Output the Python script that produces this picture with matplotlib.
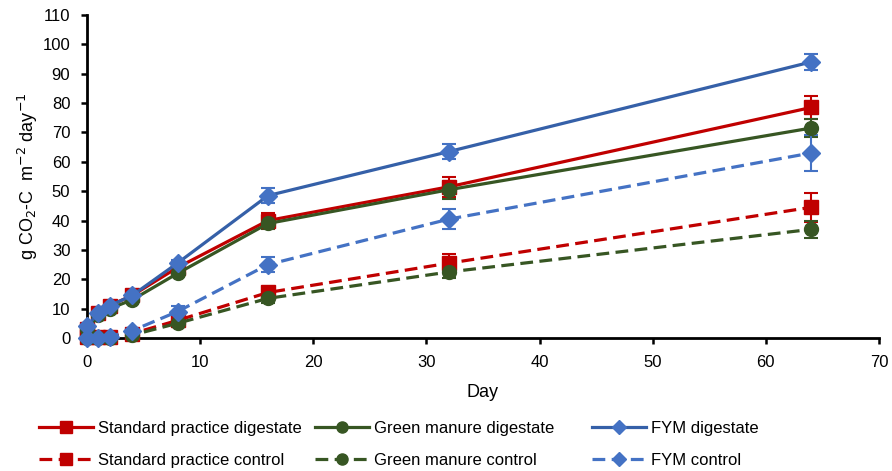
import numpy as np
import matplotlib
matplotlib.use("Agg")
import matplotlib.pyplot as plt

plt.rcParams['font.family'] = ['Liberation Sans', 'DejaVu Sans']

days = [0, 1, 2, 4, 8, 16, 32, 64]

sp_dig = [3, 8.5, 11, 14.5, 24, 40, 51.5, 78.5]
sp_dig_err = [0.5, 0.5, 0.5, 0.5, 1, 2.5, 3.5, 4]
gm_dig = [3, 8, 10, 13, 22, 39, 50.5, 71.5]
gm_dig_err = [0.5, 0.5, 0.5, 0.5, 1, 2, 3, 3]
fym_dig = [4, 8.5, 11, 14.5, 25.5, 48.5, 63.5, 94]
fym_dig_err = [0.5, 0.5, 0.5, 0.5, 1, 2.5, 2.5, 2.7]

sp_con = [0.5, 0.5, 0.5, 1.5, 6, 15.5, 25.5, 44.5]
sp_con_err = [0.3, 0.3, 0.3, 0.3, 1, 1.5, 3, 5]
gm_con = [0, 0, 0, 1, 5, 13.5, 22.5, 37]
gm_con_err = [0.3, 0.3, 0.3, 0.3, 1, 1.5, 2, 3]
fym_con = [0, 0, 0.5, 2.5, 9, 25, 40.5, 63]
fym_con_err = [0.3, 0.3, 0.3, 0.5, 2, 2.5, 3.5, 6]

red = '#C00000'
green = '#375623'
blue_line = '#3560A8'
blue = '#4472C4'

W, H = 892, 471
fig = plt.figure(figsize=(W / 100, H / 100), dpi=100)
ax = fig.add_axes([87 / W, 1 - 338 / H, 792 / W, 323 / H])

series = [
    (sp_dig, sp_dig_err, red, red, 's', '-', 'Standard practice digestate'),
    (sp_con, sp_con_err, red, red, 's', '--', 'Standard practice control'),
    (gm_dig, gm_dig_err, green, green, 'o', '-', 'Green manure digestate'),
    (gm_con, gm_con_err, green, green, 'o', '--', 'Green manure control'),
    (fym_dig, fym_dig_err, blue_line, blue, 'D', '-', 'FYM digestate'),
    (fym_con, fym_con_err, blue, blue, 'D', '--', 'FYM control'),
]

handles = []
for vals, err, lc, mc, mk, ls, lab in series:
    ms = 9 if mk == 'D' else 10
    eb = ax.errorbar(days, vals, yerr=err, fmt='none', ecolor=mc, elinewidth=1.5,
                     capsize=5, capthick=1.5, zorder=2)
    line, = ax.plot(days, vals, color=lc, linestyle=ls, linewidth=2.3,
                    marker=mk, markersize=ms, markerfacecolor=mc,
                    markeredgecolor=mc, label=lab, zorder=3, clip_on=False)
    if ls == '--':
        line.set_dashes((4, 2))
    handles.append(line)

ax.set_xlim(0, 70)
ax.set_ylim(0, 110)
ax.set_xticks(range(0, 71, 10))
ax.set_yticks(range(0, 111, 10))
ax.tick_params(axis='both', labelsize=12, width=1.8, length=4, direction='out')
ax.tick_params(axis='x', pad=8)
ax.tick_params(axis='y', pad=8)
ax.spines['top'].set_visible(False)
ax.spines['right'].set_visible(False)
ax.spines['left'].set_linewidth(2)
ax.spines['bottom'].set_linewidth(2)
ax.set_xlabel('Day', fontsize=13, labelpad=10)
ax.set_ylabel('g CO$_2$-C  m$^{-2}$ day$^{-1}$', fontsize=13, labelpad=2)

# three legend columns with equal widths, like the spreadsheet legend
col_x = [39, 315, 592]
for i, x in enumerate(col_x):
    leg = fig.legend(handles=handles[2 * i:2 * i + 2], loc='upper left',
                     bbox_to_anchor=(x / W, 1 - 421 / H), frameon=False,
                     fontsize=12, handlelength=3.25, handletextpad=0.3,
                     borderpad=0, borderaxespad=0, labelspacing=1.0,
                     markerscale=0.8)

fig.savefig('out.png', dpi=100)
